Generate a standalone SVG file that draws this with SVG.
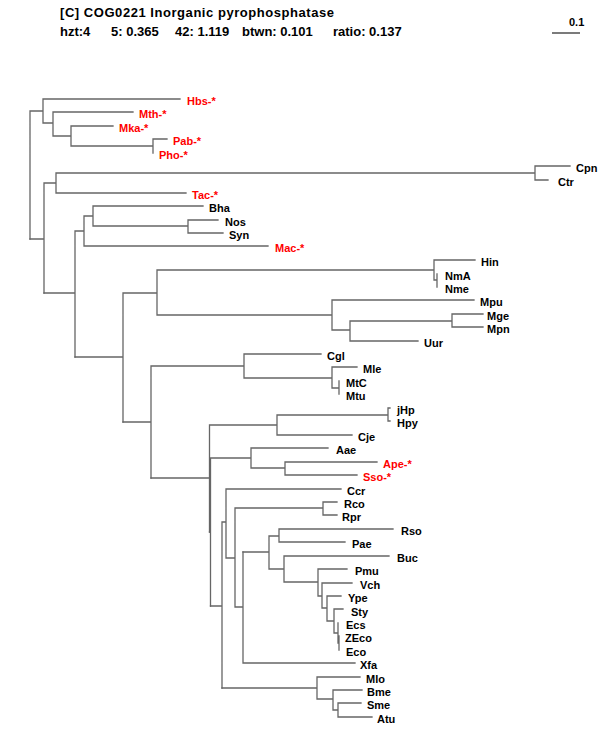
<svg xmlns="http://www.w3.org/2000/svg" width="600" height="750" viewBox="0 0 600 750">
<style>
.t{font-family:"Liberation Sans",Arial,sans-serif;font-weight:bold;fill:#000;font-size:13px}
.l{font-family:"Liberation Sans",Arial,sans-serif;font-weight:bold;font-size:11px;fill:#000}
.r{fill:#ff0000}
.e{fill:none;stroke:#666;stroke-width:1.3;stroke-linecap:square}
</style>
<rect width="600" height="750" fill="#fff"/>
<g id="header">
<text class="t" x="60" y="17" textLength="274" lengthAdjust="spacing">[C] COG0221 Inorganic pyrophosphatase</text>
<text class="t" y="36"><tspan x="60">hzt:4</tspan><tspan x="111">5: 0.365</tspan><tspan x="175">42: 1.119</tspan><tspan x="242">btwn: 0.101</tspan><tspan x="333">ratio: 0.137</tspan></text>
</g>
<g id="scale">
<path d="M552 33 H580" fill="none" stroke="#222" stroke-width="1.2"/>
<text class="l" x="569" y="26">0.1</text>
</g>
<g id="connectors">
<path class="e" d="M30 111 V239 M30 111 H43 M43 99 V123 M43 99 H180 M43 123 H53 M53 112 V136 M53 112 H133 M53 136 H71 M71 126 V146 M71 126 H113 M71 146 H153 M153 139 V153 M153 139 H167"/>
<path class="e" d="M30 239 H44 M44 183 V293 M44 183 H56 M56 173 V193 M56 173 H535 M535 166 V180 M535 166 H570 M535 180 H548 M56 193 H186"/>
<path class="e" d="M44 293 H75 M75 231 V357 M75 231 H84 M84 216 V246 M84 216 H93 M93 206 V226 M93 206 H203 M93 226 H188 M188 220 V233 M188 220 H218 M188 233 H223 M84 246 H268"/>
<path class="e" d="M75 357 H123 M123 293 V422 M123 293 H157 M157 270 V315 M157 270 H434 M434 260 V280 M434 260 H475 M434 280 H437 M437 274 V287 M157 315 H332 M332 300 V330 M332 300 H474 M332 330 H350 M350 321 V341 M350 321 H452 M452 314 V327 M452 314 H483 M452 327 H483 M350 341 H418"/>
<path class="e" d="M123 422 H151 M151 366 V478 M151 366 H244 M244 354 V378 M244 354 H321 M244 378 H332 M332 367 V388 M332 367 H357 M332 388 H339 M339 381 V394"/>
<path class="e" d="M151 478 H209.5 M209.5 425 V532 M209.5 425 H277 M277 415 V435 M277 415 H388 M388 408 V421 M388 408 H390 M388 421 H390 M277 435 H352"/>
<path class="e" d="M209.5 532 H210.5 M210.5 458 V606 M210.5 458 H251 M251 448 V468 M251 448 H328 M251 468 H285 M285 462 V475 M285 462 H377 M285 475 H357"/>
<path class="e" d="M210.5 606 H222 M222 522 V688 M222 522 H226 M226 489 V558 M226 489 H341 M226 558 H235 M235 508 V607 M235 508 H323 M323 502 V515 M323 502 H337 M323 515 H337 M235 607 H243 M243 552 V663 M243 663 H355"/>
<path class="e" d="M243 552 H269 M269 536 V569 M269 536 H279 M279 529 V542 M279 529 H393 M279 542 H345 M269 569 H284 M284 556 V582 M284 556 H389 M284 582 H318 M318 569 V596 M318 569 H347 M318 596 H322 M322 583 V608 M322 583 H352 M322 608 H327 M327 596 V621 M327 596 H341 M327 621 H334 M334 609 V633 M334 609 H343 M334 633 H338 M338 623 V643 M338 643 H339 M339 636 V650"/>
<path class="e" d="M222 688 H317 M317 677 V699 M317 677 H360 M317 699 H333 M333 690 V710 M333 690 H362 M333 710 H338 M338 703 V717 M338 703 H361 M338 717 H372"/>
</g>
<g id="leaves">
<g id="Hbs"><text class="l r" x="187" y="105">Hbs-*</text></g>
<g id="Mth"><text class="l r" x="139" y="118">Mth-*</text></g>
<g id="Mka"><text class="l r" x="119" y="132">Mka-*</text></g>
<g id="Pab"><text class="l r" x="173" y="145">Pab-*</text></g>
<g id="Pho"><text class="l r" x="159" y="159">Pho-*</text></g>
<g id="Cpn"><text class="l" x="576" y="172">Cpn</text></g>
<g id="Ctr"><text class="l" x="558" y="186">Ctr</text></g>
<g id="Tac"><text class="l r" x="192" y="199">Tac-*</text></g>
<g id="Bha"><text class="l" x="209" y="212">Bha</text></g>
<g id="Nos"><text class="l" x="225" y="226">Nos</text></g>
<g id="Syn"><text class="l" x="229" y="239">Syn</text></g>
<g id="Mac"><text class="l r" x="275" y="252">Mac-*</text></g>
<g id="Hin"><text class="l" x="481" y="266">Hin</text></g>
<g id="NmA"><text class="l" x="445" y="280">NmA</text></g>
<g id="Nme"><text class="l" x="445" y="293">Nme</text></g>
<g id="Mpu"><text class="l" x="480" y="306">Mpu</text></g>
<g id="Mge"><text class="l" x="487" y="320">Mge</text></g>
<g id="Mpn"><text class="l" x="487" y="333">Mpn</text></g>
<g id="Uur"><text class="l" x="424" y="347">Uur</text></g>
<g id="Cgl"><text class="l" x="327" y="360">Cgl</text></g>
<g id="Mle"><text class="l" x="363" y="373">Mle</text></g>
<g id="MtC"><text class="l" x="346" y="387">MtC</text></g>
<g id="Mtu"><text class="l" x="346" y="400">Mtu</text></g>
<g id="jHp"><text class="l" x="397" y="414">jHp</text></g>
<g id="Hpy"><text class="l" x="397" y="427">Hpy</text></g>
<g id="Cje"><text class="l" x="358" y="441">Cje</text></g>
<g id="Aae"><text class="l" x="336" y="454">Aae</text></g>
<g id="Ape"><text class="l r" x="383" y="468">Ape-*</text></g>
<g id="Sso"><text class="l r" x="363" y="481">Sso-*</text></g>
<g id="Ccr"><text class="l" x="347" y="495">Ccr</text></g>
<g id="Rco"><text class="l" x="344" y="508">Rco</text></g>
<g id="Rpr"><text class="l" x="342" y="521">Rpr</text></g>
<g id="Rso"><text class="l" x="401" y="535">Rso</text></g>
<g id="Pae"><text class="l" x="352" y="548">Pae</text></g>
<g id="Buc"><text class="l" x="397" y="562">Buc</text></g>
<g id="Pmu"><text class="l" x="355" y="575">Pmu</text></g>
<g id="Vch"><text class="l" x="360" y="589">Vch</text></g>
<g id="Ype"><text class="l" x="348" y="602">Ype</text></g>
<g id="Sty"><text class="l" x="351" y="616">Sty</text></g>
<g id="Ecs"><text class="l" x="346" y="629">Ecs</text></g>
<g id="ZEco"><text class="l" x="345" y="642">ZEco</text></g>
<g id="Eco"><text class="l" x="346" y="656">Eco</text></g>
<g id="Xfa"><text class="l" x="360" y="669">Xfa</text></g>
<g id="Mlo"><text class="l" x="366" y="683">Mlo</text></g>
<g id="Bme"><text class="l" x="367" y="696">Bme</text></g>
<g id="Sme"><text class="l" x="367" y="709">Sme</text></g>
<g id="Atu"><text class="l" x="377" y="723">Atu</text></g>
</g>
</svg>
